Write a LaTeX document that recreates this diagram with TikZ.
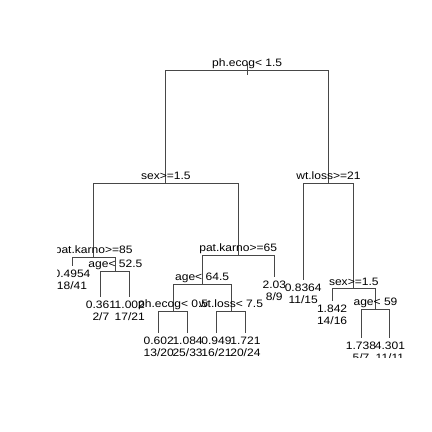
\documentclass[tikz,border=0pt]{standalone}
\usepackage{fontspec}
\setmainfont{Liberation Sans}[FakeStretch=1.12]
\begin{document}
\begin{tikzpicture}[x=1bp,y=-1bp,
  branch/.style={draw=black!72,line width=1bp},
  lab/.style={inner sep=0pt,anchor=base,font=\fontsize{10.8}{12}\selectfont,text=black}]
\useasboundingbox[fill=white] (0,0) rectangle (432,432);
% node positions
\coordinate (root) at (247.2,70);
\coordinate (rootA) at (247.2,64);
\coordinate (rootB) at (247.2,75);
\coordinate (sexL) at (165.9,183);
\coordinate (wt21) at (328.5,183);
\coordinate (pk85) at (93.7,257);
\coordinate (pk65) at (238.2,255);
\coordinate (age52) at (115.4,271);
\coordinate (age64) at (202.1,284);
\coordinate (ph05) at (173.2,311);
\coordinate (wt75) at (231.0,311);
\coordinate (sexR) at (353.8,288);
\coordinate (age59) at (375.5,309);
\coordinate (L1) at (72.0,266);
\coordinate (L2) at (100.9,297);
\coordinate (L3) at (129.8,297);
\coordinate (L4) at (158.7,333);
\coordinate (L5) at (187.6,333);
\coordinate (L6) at (216.5,333);
\coordinate (L7) at (245.4,333);
\coordinate (L8) at (274.3,277);
\coordinate (L9) at (303.2,280);
\coordinate (L10) at (332.1,301);
\coordinate (L11) at (361.0,338);
\coordinate (L12) at (389.9,338);
\begin{scope}
\clip (57,0) rectangle (432,357.5);
% branches
\draw[branch] (rootA) -- (rootB);
\draw[branch] (root) -| (sexL);
\draw[branch] (root) -| (wt21);
\draw[branch] (sexL) -| (pk85);
\draw[branch] (sexL) -| (pk65);
\draw[branch] (pk85) -| (L1);
\draw[branch] (pk85) -| (age52);
\draw[branch] (age52) -| (L2);
\draw[branch] (age52) -| (L3);
\draw[branch] (pk65) -| (age64);
\draw[branch] (pk65) -| (L8);
\draw[branch] (age64) -| (ph05);
\draw[branch] (age64) -| (wt75);
\draw[branch] (ph05) -| (L4);
\draw[branch] (ph05) -| (L5);
\draw[branch] (wt75) -| (L6);
\draw[branch] (wt75) -| (L7);
\draw[branch] (wt21) -| (L9);
\draw[branch] (wt21) -| (sexR);
\draw[branch] (sexR) -| (L10);
\draw[branch] (sexR) -| (age59);
\draw[branch] (age59) -| (L11);
\draw[branch] (age59) -| (L12);
% split labels
\node[lab] (troot) at ([yshift=4bp]root) {ph.ecog< 1.5};
\node[lab] (tsexL) at ([yshift=4bp]sexL) {sex>=1.5};
\node[lab] (twt21) at ([yshift=4bp]wt21) {wt.loss>=21};
\node[lab] (tpk85) at ([yshift=4bp]pk85) {pat.karno>=85};
\node[lab] (tpk65) at ([yshift=4bp]pk65) {pat.karno>=65};
\node[lab] (tage52) at ([yshift=4bp]age52) {age< 52.5};
\node[lab] (tage64) at ([yshift=4bp]age64) {age< 64.5};
\node[lab] (tph05) at ([yshift=4bp]ph05) {ph.ecog< 0.5};
\node[lab] (twt75) at ([yshift=4bp]wt75) {wt.loss< 7.5};
\node[lab] (tsexR) at ([yshift=3bp]sexR) {sex>=1.5};
\node[lab] (tage59) at ([yshift=4bp]age59) {age< 59};
% leaf labels
\node[lab] (v1) at ([yshift=-11bp]L1) {0.4954};
\node[lab] (n1) at ([yshift=-23bp]L1) {18/41};
\node[lab] (v2) at ([yshift=-11bp]L2) {0.361};
\node[lab] (n2) at ([yshift=-23bp]L2) {2/7};
\node[lab] (v3) at ([yshift=-11bp]L3) {1.002};
\node[lab] (n3) at ([yshift=-23bp]L3) {17/21};
\node[lab] (v4) at ([yshift=-11bp]L4) {0.602};
\node[lab] (n4) at ([yshift=-23bp]L4) {13/20};
\node[lab] (v5) at ([yshift=-11bp]L5) {1.084};
\node[lab] (n5) at ([yshift=-23bp]L5) {25/33};
\node[lab] (v6) at ([yshift=-11bp]L6) {0.949};
\node[lab] (n6) at ([yshift=-23bp]L6) {16/21};
\node[lab] (v7) at ([yshift=-11bp]L7) {1.721};
\node[lab] (n7) at ([yshift=-23bp]L7) {20/24};
\node[lab] (v8) at ([yshift=-11bp]L8) {2.03};
\node[lab] (n8) at ([yshift=-23bp]L8) {8/9};
\node[lab] (v9) at ([yshift=-11bp]L9) {0.8364};
\node[lab] (n9) at ([yshift=-23bp]L9) {11/15};
\node[lab] (v10) at ([yshift=-11bp]L10) {1.842};
\node[lab] (n10) at ([yshift=-23bp]L10) {14/16};
\node[lab] (v11) at ([yshift=-11bp]L11) {1.738};
\node[lab] (n11) at ([yshift=-23bp]L11) {5/7};
\node[lab] (v12) at ([yshift=-11bp]L12) {4.301};
\node[lab] (n12) at ([yshift=-23bp]L12) {11/11};
\end{scope}
\end{tikzpicture}
\end{document}
